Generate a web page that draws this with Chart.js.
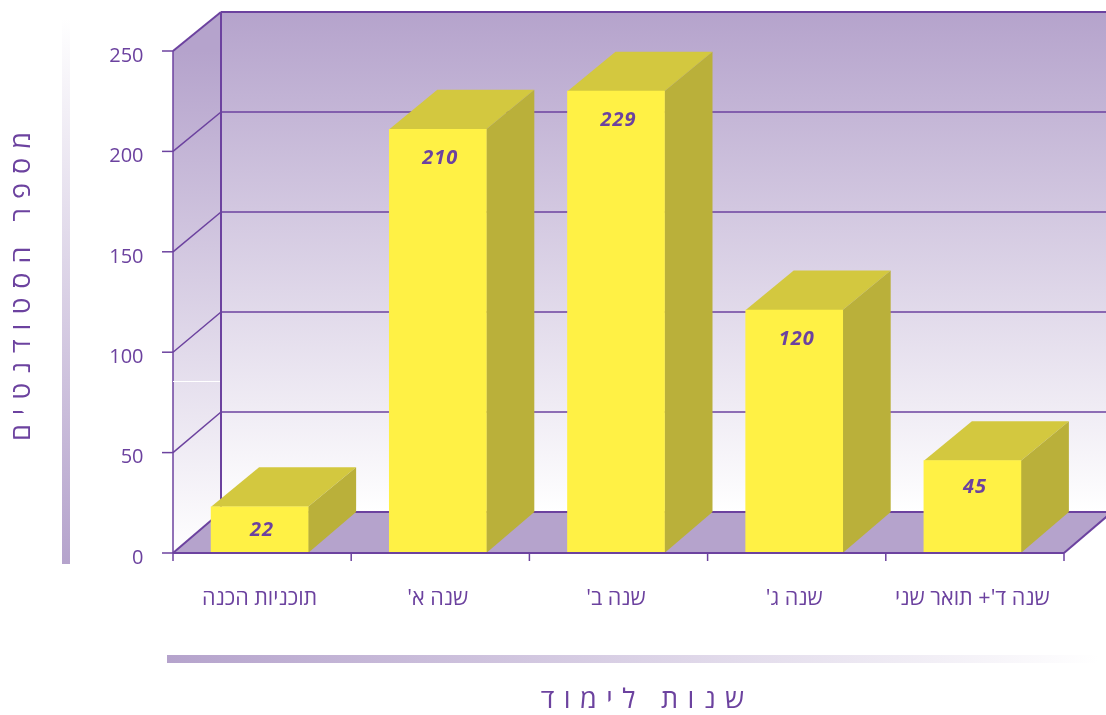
<!DOCTYPE html>
<html lang="he">
<head>
<meta charset="utf-8">
<style>html,body{margin:0;padding:0;background:#fff;overflow:hidden}canvas{display:block}</style>
<script src="https://cdn.jsdelivr.net/npm/chart.js@4"></script>
</head>
<body>
<canvas id="c" width="1106" height="715"></canvas>
<script>
const categories = ["תוכניות הכנה", "שנה א'", "שנה ב'", "שנה ג'", "שנה ד'+ תואר שני"];
const students = [22, 210, 229, 120, 45];
const yTicks = [0, 50, 100, 150, 200, 250];
const yTitle = "מ ס פ ר   ה ס ט ו ד נ ט י ם";
const xTitle = "ש נ ו ת   ל י מ ו ד";

const INK = "#6c429f", LILAC = "#b5a3cc";
const FACE = "#fff145", TOP = "#d3c83f", SIDE = "#bab03a";
const DX = 48, DY = 41, DY_TOP = 39.5; // depth of the 3D box, px
const SHIFT_X = 2.5, SHIFT_Y = 2;      // frame sits slightly off the bars

function frame(chart) {
  const x = chart.scales.x, y = chart.scales.y;
  const L = x.left + SHIFT_X, R = x.right + SHIFT_X;
  const fy = v => y.getPixelForValue(v) + SHIFT_Y;
  const by = v => fy(0) - DY - (fy(0) - fy(v)) * (500 / 502);
  return {x, y, L, R, fy, by};
}
function line(ctx, x1, y1, x2, y2, w) {
  ctx.lineWidth = w; ctx.beginPath(); ctx.moveTo(x1, y1); ctx.lineTo(x2, y2); ctx.stroke();
}

const box3d = {
  id: "box3d",
  beforeDraw(chart) { chart.ctx.direction = "rtl"; },
  beforeDatasetsDraw(chart) {
    const ctx = chart.ctx, f = frame(chart);
    const vMax = yTicks[yTicks.length - 1];
    const F0 = f.fy(0), F1 = f.fy(vMax), B0 = f.by(0), B1 = f.by(vMax);
    ctx.save();

    // decorative gradient strips
    let g = ctx.createLinearGradient(0, 18, 0, 564);
    g.addColorStop(0, "#ffffff"); g.addColorStop(1, LILAC);
    ctx.fillStyle = g; ctx.fillRect(62, 18, 8, 546);
    g = ctx.createLinearGradient(167, 0, 1098, 0);
    g.addColorStop(0, LILAC); g.addColorStop(1, "#ffffff");
    ctx.fillStyle = g; ctx.fillRect(167, 655, 931, 8);

    // walls
    g = ctx.createLinearGradient(0, B1, 0, B0);
    g.addColorStop(0, LILAC); g.addColorStop(1, "#ffffff");
    ctx.fillStyle = g;
    ctx.fillRect(f.L + DX, B1, f.R - f.L + 10, B0 - B1);
    g = ctx.createLinearGradient(0, F1, 0, F0);
    g.addColorStop(0, LILAC); g.addColorStop(1, "#ffffff");
    ctx.fillStyle = g;
    ctx.beginPath();
    ctx.moveTo(f.L, F1); ctx.lineTo(f.L + DX, B1); ctx.lineTo(f.L + DX, B0); ctx.lineTo(f.L, F0);
    ctx.closePath(); ctx.fill();

    // floor
    ctx.fillStyle = LILAC;
    ctx.beginPath();
    ctx.moveTo(f.L, F0); ctx.lineTo(f.L + DX, B0); ctx.lineTo(f.R + DX, B0); ctx.lineTo(f.R, F0);
    ctx.closePath(); ctx.fill();

    // grid
    ctx.strokeStyle = INK; ctx.lineCap = "butt";
    yTicks.forEach(v => {
      const fy = f.fy(v), by = f.by(v);
      const edge = v === 0 || v === vMax;
      line(ctx, f.L - 11, fy, f.L, fy, 1.5);
      line(ctx, f.L, fy, f.L + DX, by, edge ? 2 : 1.5);
      line(ctx, f.L + DX, by, f.R + DX, by, edge ? 2 : 1.5);
    });
    line(ctx, f.L, F1, f.L, F0, 1.5);
    line(ctx, f.L + DX, B1, f.L + DX, B0, 2);
    line(ctx, f.R, F0, f.R + DX, B0, 2);
    ctx.strokeStyle = "#ffffff";
    line(ctx, f.L, 381.5, f.L + DX - 1, 381.5, 1);

    // box faces
    chart.getDatasetMeta(0).data.forEach(b => {
      const x0 = b.x - b.width / 2, x1 = b.x + b.width / 2, t = b.y, bt = b.base;
      ctx.fillStyle = TOP;
      ctx.beginPath();
      ctx.moveTo(x0, t); ctx.lineTo(x1, t); ctx.lineTo(x1 + DX, t - DY_TOP); ctx.lineTo(x0 + DX, t - DY_TOP);
      ctx.closePath(); ctx.fill();
      ctx.fillStyle = SIDE;
      ctx.beginPath();
      ctx.moveTo(x1, t); ctx.lineTo(x1 + DX, t - DY_TOP); ctx.lineTo(x1 + DX, bt - DY); ctx.lineTo(x1, bt);
      ctx.closePath(); ctx.fill();
    });
    ctx.restore();
  },
  afterDatasetsDraw(chart) {
    const ctx = chart.ctx, f = frame(chart);
    const F0 = f.fy(0);
    ctx.save();
    ctx.strokeStyle = INK;
    line(ctx, f.L, F0, f.R, F0, 2);
    const w = (f.R - f.L) / categories.length;
    for (let i = 0; i <= categories.length; i++) {
      const px = f.L + i * w;
      line(ctx, px, F0, px, F0 + 8, 1.5);
    }
    // value labels
    ctx.fillStyle = INK;
    ctx.direction = "ltr";
    ctx.font = "italic bold 20px 'Open Sans'";
    ctx.textAlign = "center"; ctx.textBaseline = "middle";
    ctx.letterSpacing = "1px";
    chart.getDatasetMeta(0).data.forEach((b, i) => {
      const h = b.base - b.y;
      ctx.fillText(String(students[i]), b.x + SHIFT_X, b.y + Math.min(29, 21 + h * 0.06));
    });

    // axis titles
    ctx.font = "27px 'Open Sans'";
    ctx.direction = "rtl";
    ctx.letterSpacing = "1.2px";
    ctx.fillText(xTitle, 643, 700);
    ctx.save();
    ctx.translate(22, 286);
    ctx.rotate(-Math.PI / 2);
    ctx.letterSpacing = "1px";
    ctx.fillText(yTitle, 0, 0);
    ctx.restore();
    ctx.restore();
  }
};

new Chart(document.getElementById("c"), {
  type: "bar",
  data: {
    labels: categories,
    datasets: [{
      data: students,
      backgroundColor: FACE,
      borderWidth: 0,
      barThickness: 97,
      base: -1,
      clip: false
    }]
  },
  options: {
    responsive: false,
    animation: false,
    events: [],
    layout: { padding: { left: 0, right: 44.5, top: 49, bottom: 0 } },
    plugins: { legend: { display: false }, tooltip: { enabled: false }, title: { display: false } },
    scales: {
      x: {
        type: "category",
        offset: true,
        grid: { display: false },
        border: { display: false },
        afterFit(s) { s.height = 164; },
        ticks: {
          color: INK, maxRotation: 0, minRotation: 0, autoSkip: false,
          padding: 27,
          font: { family: "'Open Sans'", size: 21.5 }
        }
      },
      y: {
        min: 0, max: 250,
        grid: { display: false },
        border: { display: false },
        afterFit(s) { s.width = 170.5; },
        afterBuildTicks(s) { s.ticks = yTicks.map(v => ({ value: v })); },
        ticks: {
          color: INK,
          padding: 19,
          labelOffset: 7,
          font: { family: "'Open Sans'", size: 20 }
        }
      }
    }
  },
  plugins: [box3d]
});
</script>
</body>
</html>
